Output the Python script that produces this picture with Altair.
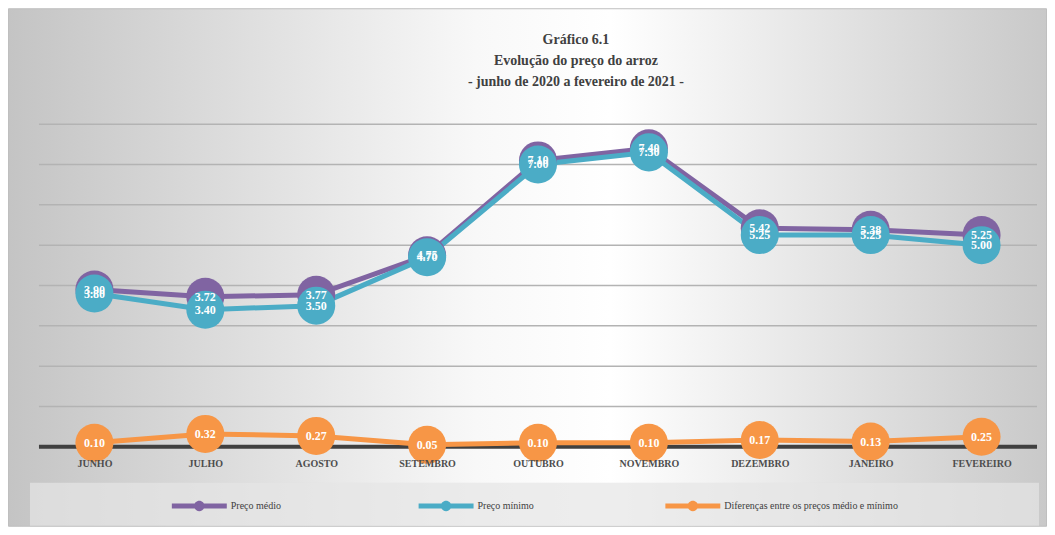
import altair as alt
import pandas as pd

months = ["JUNHO", "JULHO", "AGOSTO", "SETEMBRO", "OUTUBRO", "NOVEMBRO", "DEZEMBRO", "JANEIRO", "FEVEREIRO"]
preco_medio = [3.90, 3.72, 3.77, 4.75, 7.10, 7.40, 5.42, 5.38, 5.25]
preco_minimo = [3.80, 3.40, 3.50, 4.70, 7.00, 7.30, 5.25, 5.25, 5.00]
diferenca = [0.10, 0.32, 0.27, 0.05, 0.10, 0.10, 0.17, 0.13, 0.25]
series_names = ["Preço médio", "Preço mínimo", "Diferenças entre os preços médio e mínimo"]
series_colors = ["#8064a2", "#4bacc6", "#f79646"]
grid_values = [1, 2, 3, 4, 5, 6, 7, 8]
zero_values = [0]
title_lines = ["Gráfico 6.1", "Evolução do preço do arroz", "- junho de 2020 a fevereiro de 2021 -"]

FONT = "Liberation Serif"
W, H = 999, 323
PAD = {"left": 31, "top": 116, "right": 10, "bottom": 80}

rows = []
for k, (name, vals) in enumerate(zip(series_names, [preco_medio, preco_minimo, diferenca])):
    for m, v in zip(months, vals):
        rows.append({"mes": m, "serie": name, "valor": v, "ordem": k})
df = pd.DataFrame(rows)
grid_df = pd.DataFrame({"g": grid_values})
zero_df = pd.DataFrame({"z": zero_values})
one = pd.DataFrame({"a": [0]})

x_enc = alt.X(
    "mes:N", sort=months,
    scale=alt.Scale(type="point", padding=0.5),
    axis=alt.Axis(title=None, domain=False, ticks=False, grid=False, labelAngle=0,
                  labelPadding=12, labelFont=FONT, labelFontSize=10, labelFontWeight="bold",
                  labelColor="#4d4d4d", zindex=1),
)
y_scale = alt.Scale(domain=[0, 8], nice=False, zero=True)
y_enc = alt.Y("valor:Q", scale=y_scale, axis=None)

bg_gradient = alt.LinearGradient(
    gradient="linear",
    stops=[
        alt.GradientStop(color="#c4c4c4", offset=0),
        alt.GradientStop(color="#f8f8f8", offset=0.45),
        alt.GradientStop(color="#ffffff", offset=0.58),
        alt.GradientStop(color="#c9c9c9", offset=1),
    ],
    x1=0, x2=1, y1=0, y2=0,
)

background = alt.Chart(one).mark_rect(fill=bg_gradient, stroke="#bfbfbf", strokeWidth=1).encode(
    x=alt.value(-PAD["left"] + 0.5), x2=alt.value(W + PAD["right"] - 0.5),
    y=alt.value(-PAD["top"] + 0.5), y2=alt.value(H + PAD["bottom"] - 0.5),
)

legend_box = alt.Chart(one).mark_rect(fill="#e6e6e6", opacity=0.7).encode(
    x=alt.value(-9), x2=alt.value(1001), y=alt.value(359), y2=alt.value(H + PAD["bottom"] - 1),
)

grid = alt.Chart(grid_df).mark_rule(color="#b3b3b3", strokeWidth=1.5).encode(
    y=alt.Y("g:Q", scale=y_scale, axis=None)
)
zero_line = alt.Chart(zero_df).mark_rule(color="#404040", strokeWidth=4).encode(
    y=alt.Y("z:Q", scale=y_scale, axis=None)
)

lines = alt.Chart(df).mark_line(strokeWidth=5).encode(
    x=x_enc, y=y_enc,
    stroke=alt.Stroke("serie:N", scale=alt.Scale(domain=series_names, range=series_colors)),
)

symbol_path = ("M-1,-0.09L1,-0.09L1,0.09L-1,0.09Z "
               "M-0.19,0A0.19,0.19 0 1,1 0.19,0A0.19,0.19 0 1,1 -0.19,0Z")

points = alt.Chart(df).mark_point(filled=True, opacity=1, size=1450, shape="circle").encode(
    x=x_enc, y=y_enc,
    color=alt.Color(
        "serie:N", scale=alt.Scale(domain=series_names, range=series_colors),
        legend=alt.Legend(title=None, orient="none", legendX=133, legendY=354.5,
                          direction="horizontal", columns=3, gridAlign="all", columnPadding=14,
                          symbolType=symbol_path, symbolSize=3025, symbolStrokeWidth=0,
                          symbolOpacity=1, labelFont=FONT, labelFontSize=10, labelLimit=400,
                          labelColor="#404040", labelOffset=4, padding=0),
    ),
)

labels = alt.Chart(df).mark_text(
    color="white", font=FONT, fontSize=12, fontWeight="bold", baseline="middle", align="center"
).encode(
    x=x_enc, y=y_enc, text=alt.Text("valor:Q", format=".2f"),
)

chart = alt.layer(background, legend_box, grid, zero_line, lines, points, labels).properties(
    width=W, height=H, padding=PAD,
    autosize=alt.AutoSizeParams(type="none"),
    title=alt.Title(text=title_lines, font=FONT, fontSize=14, fontWeight="bold", color="#404040",
                    anchor="middle", frame="group", dx=38, dy=116, offset=35, lineHeight=21),
).configure_view(stroke=None)

chart.save("out.html", embed_options={"renderer": "svg", "actions": False})
